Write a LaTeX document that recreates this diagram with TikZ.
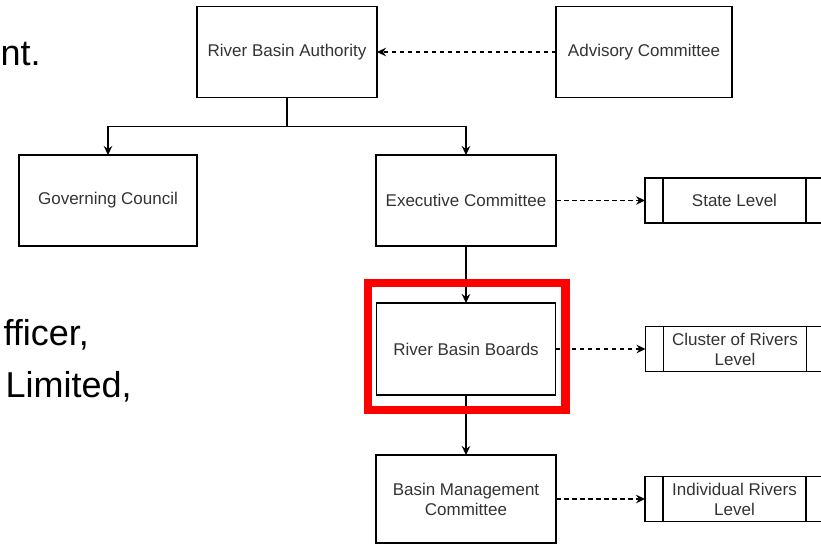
\documentclass[tikz,border=0pt]{standalone}
\usepackage{fontspec}
\setmainfont{Liberation Sans}
\usetikzlibrary{positioning}
\usetikzlibrary{calc}
\usetikzlibrary{arrows.meta}

\definecolor{labelgray}{HTML}{333333}

\begin{document}
\begin{tikzpicture}[x=1pt,y=-1pt,->,>={Stealth[length=9pt,width=8.5pt,inset=3pt]},
			line width=1.2pt]
			\tikzstyle{box}=[draw,rectangle,minimum width=180pt,minimum height=91pt,inner sep=2pt,
				outer sep=0pt,align=center,text=labelgray,font=\fontsize{17}{20}\selectfont]
			\tikzstyle{level}=[box,minimum width=179pt,minimum height=45pt]
			\tikzstyle{note}=[inner sep=0pt,anchor=base west,font=\fontsize{36}{40}\selectfont]
			\tikzstyle{link}=[dash pattern=on 4.5pt off 3.5pt]
			\tikzstyle{redframe}=[-,draw=red,line width=8.5pt]
			
			\clip (0,0) rectangle (821,544);
			
			% slide text behind the chart
			\node[note] (txt_a) at (0,65)  {nt.};
			\node[note] (txt_b) at (3,345) {fficer,};
			\node[note] (txt_c) at (5,397) {Limited,};
			
			\node[box]                        (rba)   at (287,52)    {River Basin Authority};
			\node[box,minimum width=176pt]    (adv)   [right=179pt of rba] {Advisory Committee};
			\node[box,minimum width=178pt]    (gov)   at (108,200.5) {Governing Council};
			\node[box]                        (exec)  at (466,200.5) {Executive Committee};
			\node[box,minimum width=179pt,minimum height=92pt] (rbb) [below=57pt of exec] {River Basin Boards};
			\node[box,minimum height=88pt]    (bmc)   [below=60pt of rbb]  {Basin Management\\Committee};
			
			\node[level] (state)   [right=89pt of exec] {State Level};
			\node[level] (cluster) [right=90pt of rbb]  {Cluster of Rivers\\Level};
			\node[level] (indiv)   [right=89pt of bmc]  {Individual Rivers\\Level};
			
			% side bars of the level boxes
			\foreach \n in {state,cluster,indiv} {
				\draw[-] ([xshift=18pt]\n.north west) -- ([xshift=18pt]\n.south west);
				\draw[-] ([xshift=-18pt]\n.north east) -- ([xshift=-18pt]\n.south east);
			}
			
			\draw (rba.south) -- ++(0,29) -| (gov.north);
			\draw (rba.south) -- ++(0,29) -| (exec.north);
			
			\path (adv.west)  edge[link] (rba.east)
			(exec.south) edge        (rbb.north)
			(rbb.south)  edge        (bmc.north)
			(exec.east)  edge[link]  (state.west)
			(rbb.east)   edge[link]  (cluster.west)
			(bmc.east)   edge[link]  (indiv.west)
			;
			
			\draw[redframe] ($(rbb.north west)+(-8.5,-20)$) rectangle ($(rbb.south east)+(10,15)$);
			\end{tikzpicture}
\end{document}
